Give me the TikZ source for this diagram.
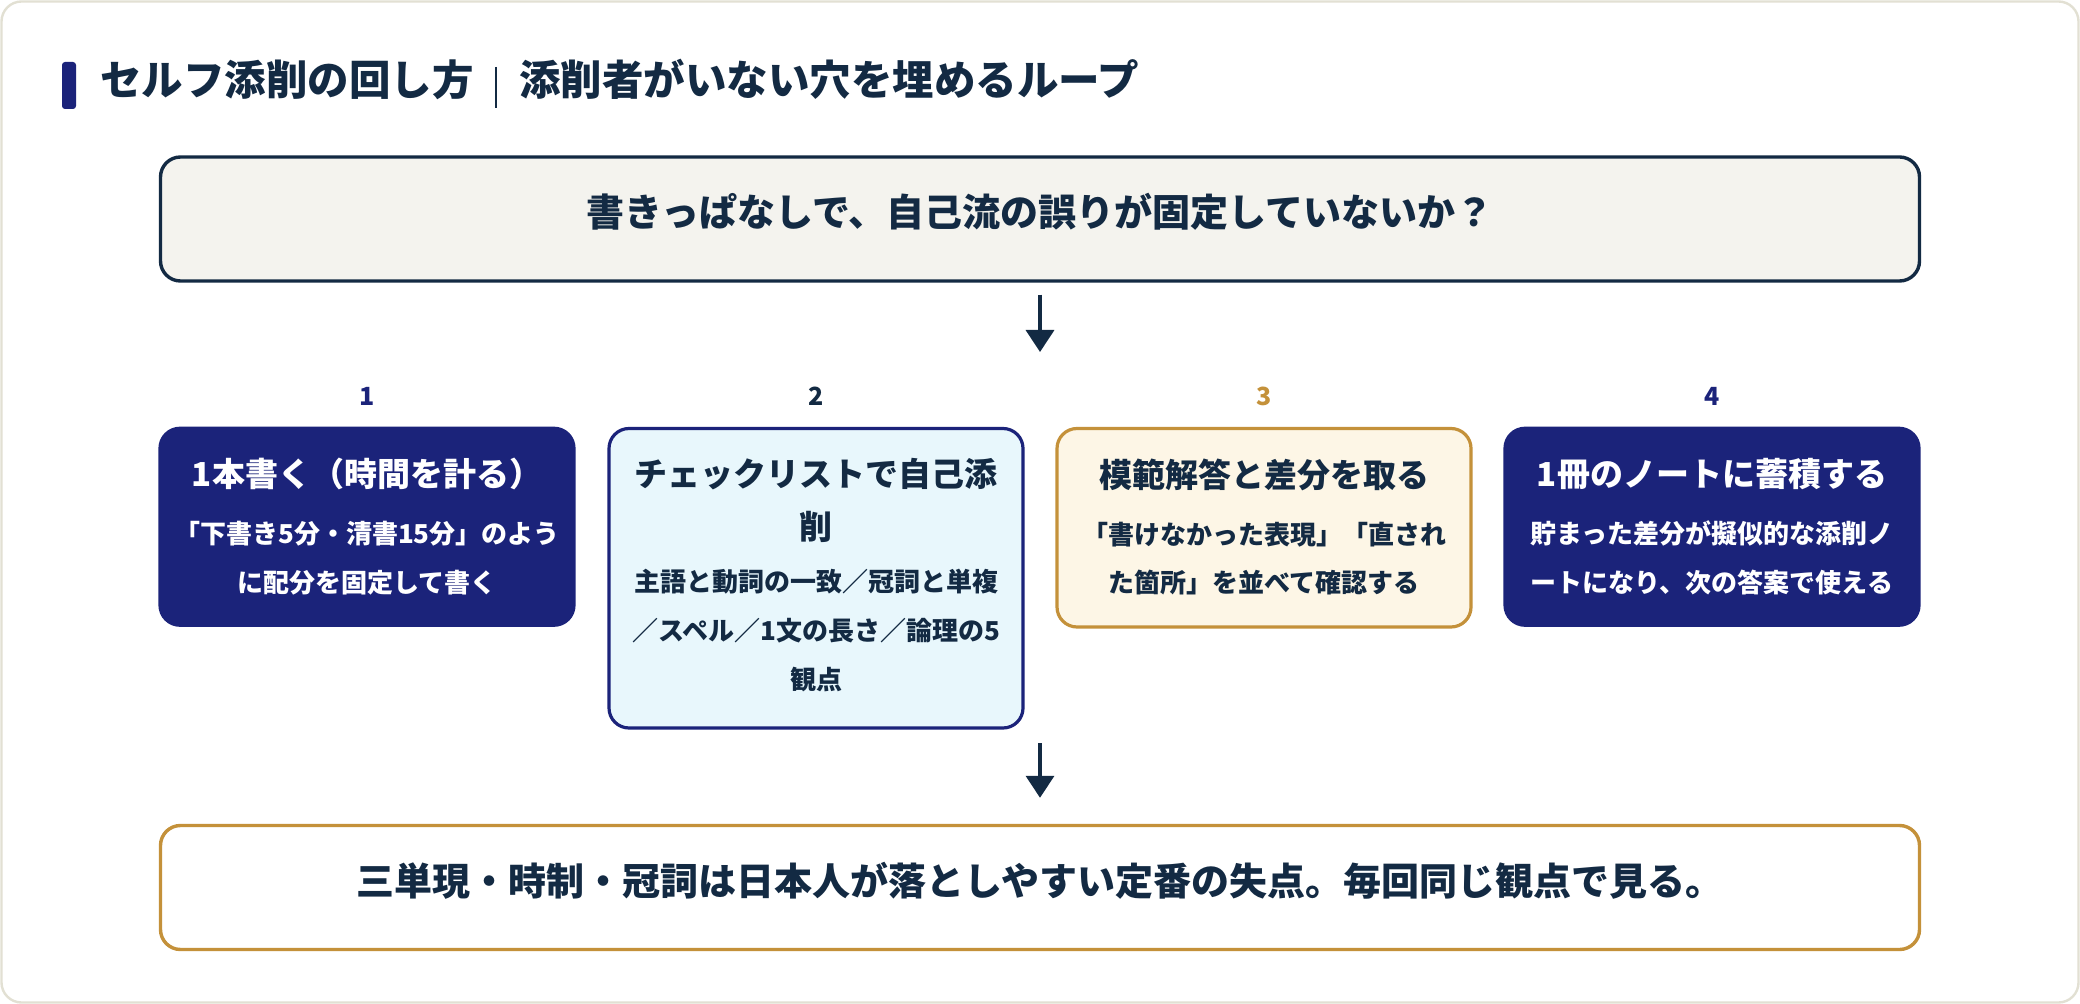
\documentclass[tikz,border=0pt]{standalone}
\usepackage{fontspec}
\setmainfont{Noto Sans CJK JP}
\usetikzlibrary{arrows.meta}
\definecolor{ink}{HTML}{132A43}
\definecolor{navy}{HTML}{1B237A}
\definecolor{gold}{HTML}{C4913A}
\definecolor{paleblue}{HTML}{E8F7FC}
\definecolor{cream}{HTML}{FDF6E6}
\definecolor{offwhite}{HTML}{F4F3EE}
\definecolor{cardline}{HTML}{E2E0D3}
\begin{document}
\begin{tikzpicture}[x=0.5pt,y=-0.5pt,
  cardbox/.style={draw=cardline, line width=1.2pt, rounded corners=10pt, fill=white},
  wide/.style={rectangle, rounded corners=10pt, line width=1.7pt, inner sep=0pt, minimum width=879.5pt, minimum height=62pt},
  stepbox/.style={rectangle, rounded corners=10pt, line width=1.6pt, inner sep=0pt, minimum width=207pt},
  txt/.style={inner sep=0pt, text height=0.88em, text depth=0.12em, anchor=center},
  titletxt/.style={txt, anchor=west, text=ink, font=\fontsize{20.75}{20.75}\selectfont\bfseries},
  bigtxt/.style={txt, text=ink, font=\fontsize{19}{19}\selectfont\bfseries},
  numtxt/.style={txt, font=\fontsize{12.5}{12.5}\selectfont\bfseries},
  headtxt/.style={txt, font=\fontsize{16.5}{16.5}\selectfont\bfseries},
  bodytxt/.style={txt, font=\fontsize{13}{13}\selectfont\bfseries},
  arr/.style={draw=ink, line width=1.8pt, -{Triangle[length=11pt,width=14pt]}}
]
\useasboundingbox (0,0) rectangle (2080,1004);
\path[cardbox] (1.5,1.5) rectangle (2078.5,1002.5);

% title
\fill[navy, rounded corners=1.5pt] (62,62) rectangle (76,109);
\node[titletxt] (t1) at (100,88) {セルフ添削の回し方};
\draw[ink, line width=0.8pt] (496,67) -- (496,108);
\node[titletxt] (t2) at (519,88) {添削者がいない穴を埋めるループ};

% top question
\node[wide, draw=ink, fill=offwhite] (top) at (1040,219) {};
\node[bigtxt] at (top.center) {書きっぱなしで、自己流の誤りが固定していないか？};

% numbers
\node[numtxt, text=navy] (n1) at (367,398) {1};
\node[numtxt, text=ink]  (n2) at (816,398) {2};
\node[numtxt, text=gold] (n3) at (1264,398) {3};
\node[numtxt, text=navy] (n4) at (1712,398) {4};

% step boxes
\node[stepbox, draw=navy, fill=navy, minimum height=98.5pt] (b1) at (367,526.75) {};
\node[stepbox, draw=navy, fill=paleblue, minimum height=149.75pt] (b2) at (816,578.25) {};
\node[stepbox, draw=gold, fill=cream, minimum height=99.25pt] (b3) at (1264,527.75) {};
\node[stepbox, draw=navy, fill=navy, minimum height=98.5pt] (b4) at (1712,526.75) {};

% box 1
\node[headtxt, text=white] (h1) at (367,479) {1本書く（時間を計る）};
\node[bodytxt, text=white] (p1a) at (367,536) {「下書き5分・清書15分」のよう};
\node[bodytxt, text=white] (p1b) at (367,585) {に配分を固定して書く};

% box 2
\node[headtxt, text=ink] (h2a) at (816,479) {チェックリストで自己添};
\node[headtxt, text=ink] (h2b) at (816,532) {削};
\node[bodytxt, text=ink] (p2a) at (816,584) {主語と動詞の一致／冠詞と単複};
\node[bodytxt, text=ink] (p2b) at (816,633) {／スペル／1文の長さ／論理の5};
\node[bodytxt, text=ink] (p2c) at (816,682) {観点};

% box 3
\node[headtxt, text=ink] (h3) at (1264,480) {模範解答と差分を取る};
\node[bodytxt, text=ink] (p3a) at (1264,537) {「書けなかった表現」「直され};
\node[bodytxt, text=ink] (p3b) at (1264,585) {た箇所」を並べて確認する};

% box 4
\node[headtxt, text=white] (h4) at (1712,479) {1冊のノートに蓄積する};
\node[bodytxt, text=white] (p4a) at (1712,536) {貯まった差分が擬似的な添削ノ};
\node[bodytxt, text=white] (p4b) at (1712,585) {ートになり、次の答案で使える};

% bottom
\node[wide, draw=gold, fill=white] (bot) at (1040,887.5) {};
\node[bigtxt] at (bot.center) {三単現・時制・冠詞は日本人が落としやすい定番の失点。毎回同じ観点で見る。};

% arrows
\coordinate (a1e) at (1040,352);
\coordinate (a2s) at (1040,743);
\draw[arr, shorten <=6pt] (top) -- (a1e);
\draw[arr, shorten >=13pt] (a2s) -- (bot);
\end{tikzpicture}
\end{document}
